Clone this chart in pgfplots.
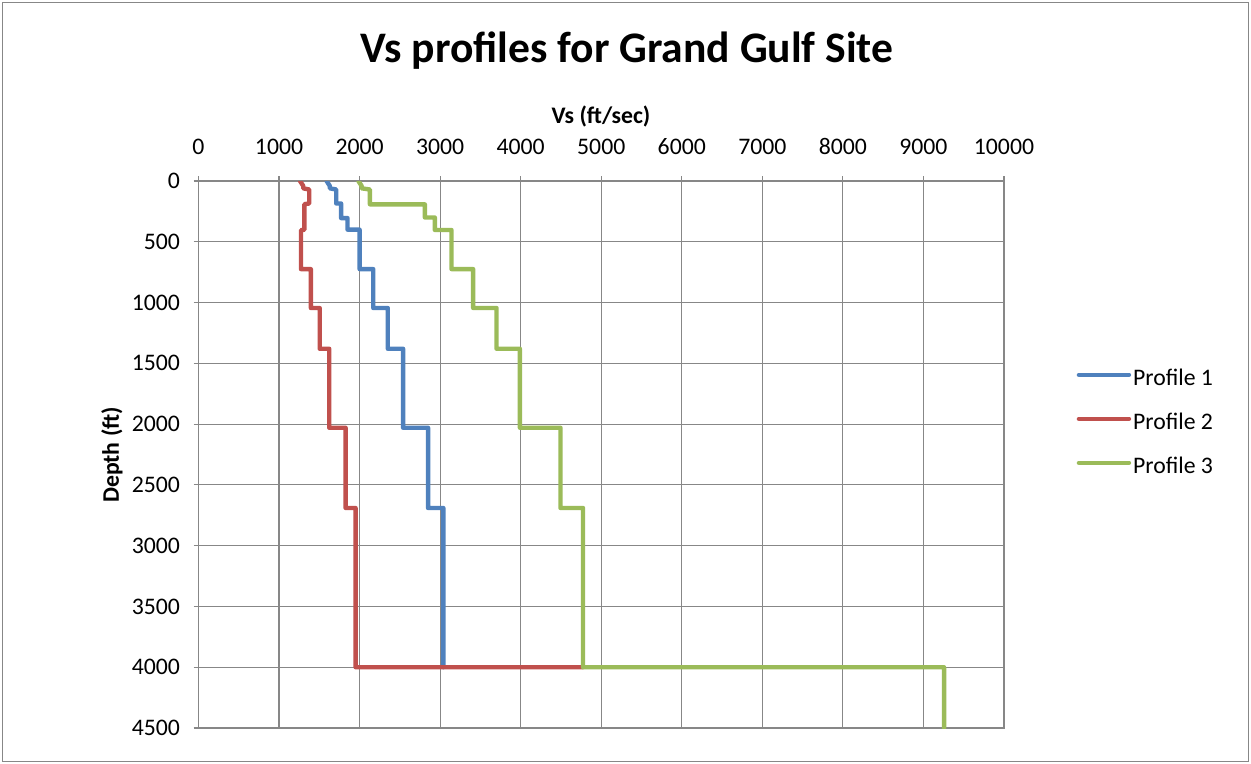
\documentclass[border=0pt]{standalone}
\usepackage{fontspec}
\setmainfont{Carlito}
\usepackage{pgfplots}
\pgfplotsset{compat=1.18}
\definecolor{p1}{HTML}{4F81BD}
\definecolor{p2}{HTML}{C0504D}
\definecolor{p3}{HTML}{9BBB59}
\definecolor{gridc}{HTML}{878787}
\newcommand{\tickfont}{\fontsize{17.8}{20}\selectfont}
\begin{document}
\begin{tikzpicture}
\begin{scope}[x=0.75pt,y=-0.75pt]
\path[use as bounding box] (0,0) rectangle (1251,763);
\draw[gridc, line width=0.75pt] (2,3) rectangle (1248,761);
\node[anchor=base, font=\fontsize{32.7}{38}\selectfont\bfseries] at (627,63) {Vs profiles for Grand Gulf Site};
\node[anchor=base, font=\tickfont\bfseries] at (601,124) {Vs (ft/sec)};
\node[rotate=90, font=\tickfont\bfseries] at (112,455) {Depth (ft)};
\end{scope}
\begin{axis}[
  at={(148.875pt,-135.75pt)}, anchor=north west,
  scale only axis, width=604.1pt, height=410.25pt,
  xmin=0, xmax=10000, ymin=0, ymax=4500, y dir=reverse,
  xtick={0,1000,...,10000}, ytick={0,500,...,4500},
  scaled x ticks=false, scaled y ticks=false,
  grid=major, major grid style={gridc, line width=0.9pt},
  axis line style={gridc, line width=0.9pt},
  tick style={gridc, line width=0.9pt}, tick align=center, major tick length=7.5pt,
  xtick pos=right, xticklabel pos=right, ytick pos=left, yticklabel pos=left,
  xticklabel style={anchor=south, inner sep=0pt, yshift=15.75pt, font=\tickfont},
  yticklabel style={anchor=east, inner sep=0pt, xshift=-10pt, font=\tickfont},
  /pgf/number format/.cd, 1000 sep={}, assume math mode=true, /pgfplots/.cd,
  legend cell align=left,
  legend style={at={(axis cs:10900,2000)}, anchor=west, draw=none, fill=none, inner sep=0pt,
    row sep=14pt, font=\tickfont, nodes={inner sep=1.5pt, text height=12pt, text depth=4pt}},
  legend image code/.code={\draw[#1, line cap=round] (0pt,4pt) -- (37.5pt,4pt);},
]
\addplot[p1, line width=3.3pt, line cap=round, line join=round] coordinates {
(1590,0) (1630,40) (1630,60) (1710,70) (1710,185) (1770,185) (1770,305) (1850,305) (1850,400) (2000,400) (2000,725) (2170,725) (2170,1045) (2350,1045) (2350,1380) (2540,1380) (2540,2030) (2850,2030) (2850,2690) (3040,2690) (3040,4000)};
\addlegendentry{Profile 1}
\addplot[p2, line width=3.3pt, line cap=round, line join=round] coordinates {
(1260,0) (1300,40) (1300,60) (1375,70) (1375,185) (1315,190) (1315,400) (1272,405) (1272,725) (1395,725) (1395,1045) (1505,1045) (1505,1380) (1623,1380) (1623,2030) (1826,2030) (1826,2690) (1950,2690) (1950,4000) (4770,4000)};
\addlegendentry{Profile 2}
\addplot[p3, line width=3.3pt, line cap=round, line join=round] coordinates {
(1985,0) (2025,40) (2025,60) (2128,70) (2128,192) (2810,192) (2810,300) (2934,300) (2934,403) (3141,403) (3141,725) (3410,725) (3410,1045) (3700,1045) (3700,1380) (3990,1380) (3990,2030) (4494,2030) (4494,2690) (4774,2690) (4774,4000) (9256,4000) (9256,4500)};
\addlegendentry{Profile 3}
\end{axis}
\end{tikzpicture}
\end{document}
